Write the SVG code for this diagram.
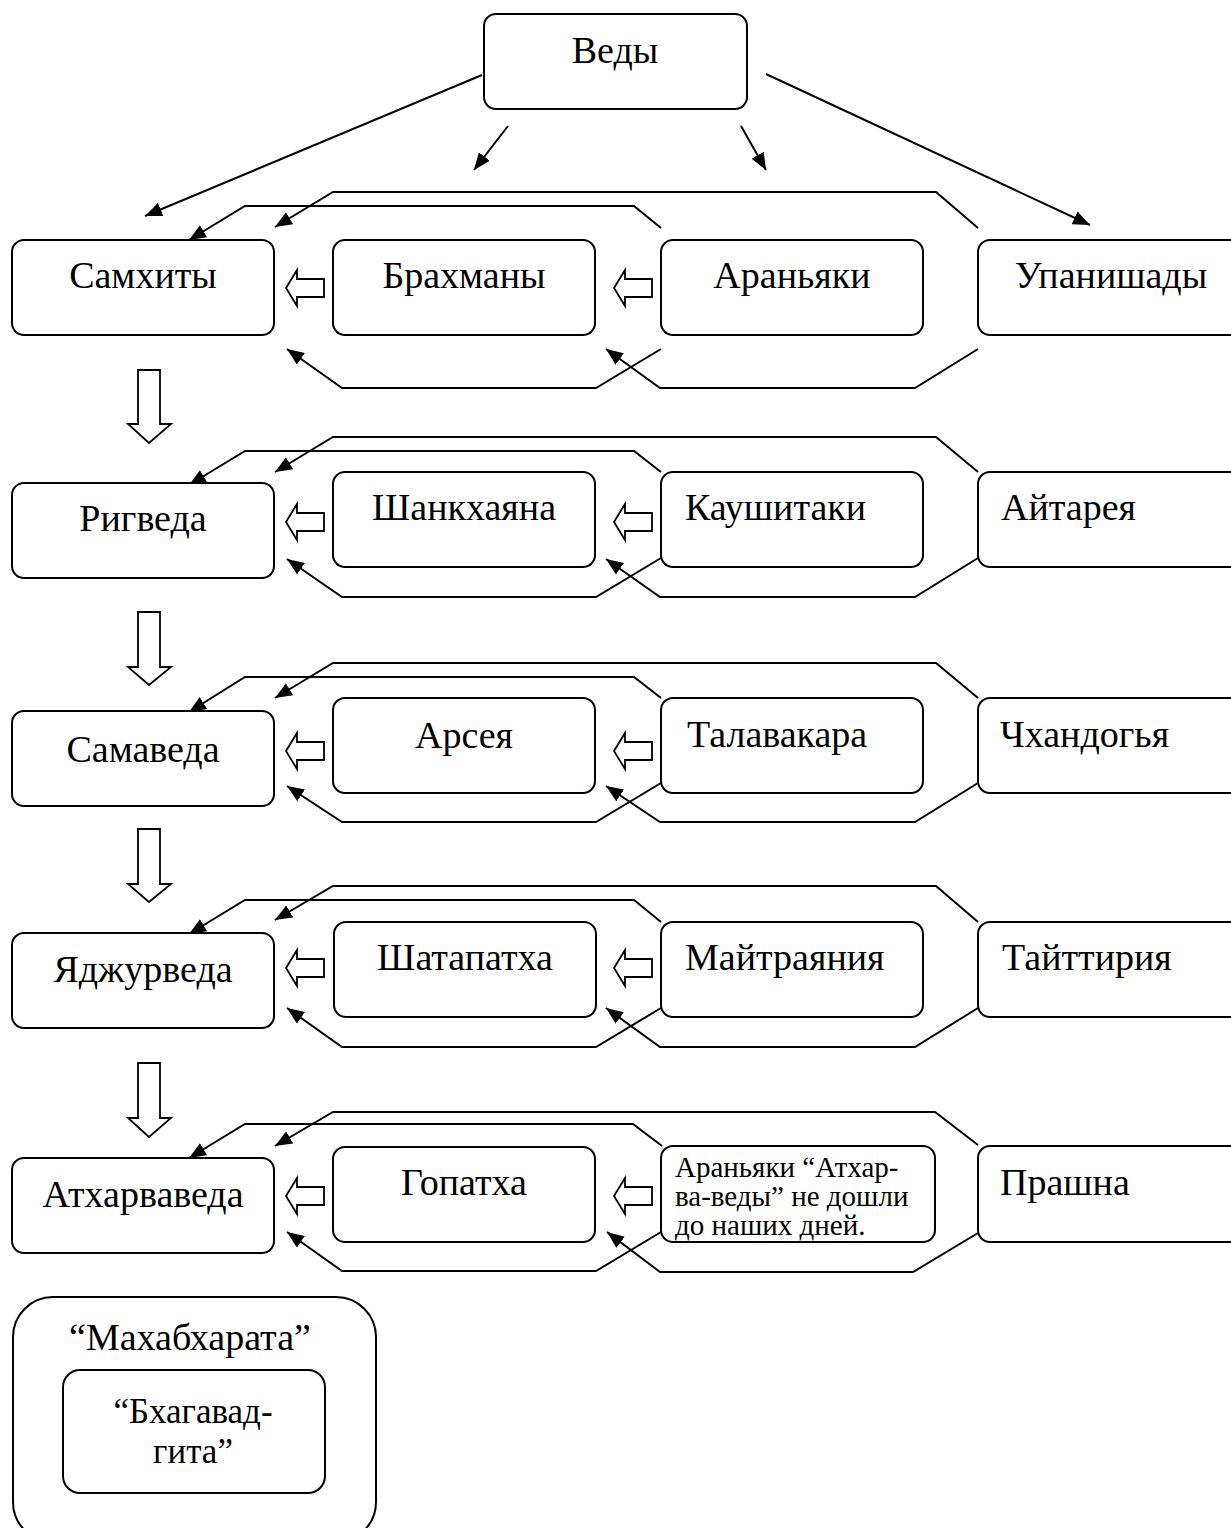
<svg xmlns="http://www.w3.org/2000/svg" width="1231" height="1528" viewBox="0 0 1231 1528">
<style>
.box{fill:#fff;stroke:#000;stroke-width:2}
.t{font-family:"Liberation Serif","Times New Roman",serif;font-size:38px;fill:#000}
.c{text-anchor:middle}
.g{font-size:35px}
.n{font-family:"Liberation Serif","Times New Roman",serif;font-size:29px;fill:#000}
.ln{fill:none;stroke:#000;stroke-width:2}
.ha{fill:#fff;stroke:#000;stroke-width:1.8;stroke-linejoin:miter}
</style>
<defs>
<marker id="ah" markerUnits="userSpaceOnUse" markerWidth="18" markerHeight="14" refX="17" refY="7" orient="auto" viewBox="0 0 18 14">
<path d="M0,0 L17,7 L0,14 z" fill="#000"/>
</marker>
</defs>
<rect width="1231" height="1528" fill="#fff"/>

<g id="connectors">
<line class="ln" x1="482" y1="75" x2="145" y2="216" marker-end="url(#ah)"/>
<line class="ln" x1="508" y1="126" x2="474" y2="170" marker-end="url(#ah)"/>
<line class="ln" x1="741" y1="126" x2="766" y2="170" marker-end="url(#ah)"/>
<line class="ln" x1="766" y1="74" x2="1090" y2="225" marker-end="url(#ah)"/>
<polyline class="ln" points="661,228 634,206 245,206 189,240" marker-end="url(#ah)"/>
<polyline class="ln" points="978,228 936,192 333,192 275,227" marker-end="url(#ah)"/>
<polyline class="ln" points="661,349 596,388 342,388 287,349" marker-end="url(#ah)"/>
<polyline class="ln" points="978,349 915,388 660,388 606,349" marker-end="url(#ah)"/>
<polyline class="ln" points="661,472 634,451 245,451 189,485" marker-end="url(#ah)"/>
<polyline class="ln" points="978,472 936,437 333,437 275,472" marker-end="url(#ah)"/>
<polyline class="ln" points="661,558 596,597 342,597 287,559" marker-end="url(#ah)"/>
<polyline class="ln" points="978,558 915,597 660,597 606,559" marker-end="url(#ah)"/>
<polyline class="ln" points="661,698 634,677 245,677 189,712" marker-end="url(#ah)"/>
<polyline class="ln" points="978,698 936,663 333,663 275,698" marker-end="url(#ah)"/>
<polyline class="ln" points="661,783 596,822 342,822 287,786" marker-end="url(#ah)"/>
<polyline class="ln" points="978,783 915,822 660,822 606,786" marker-end="url(#ah)"/>
<polyline class="ln" points="661,922 634,900 245,900 189,934" marker-end="url(#ah)"/>
<polyline class="ln" points="978,922 936,886 333,886 275,920" marker-end="url(#ah)"/>
<polyline class="ln" points="661,1008 596,1047 342,1047 287,1008" marker-end="url(#ah)"/>
<polyline class="ln" points="978,1008 915,1047 660,1047 606,1008" marker-end="url(#ah)"/>
<polyline class="ln" points="662,1146 633,1124 245,1124 189,1158" marker-end="url(#ah)"/>
<polyline class="ln" points="978,1145 935,1112 333,1112 275,1146" marker-end="url(#ah)"/>
<polyline class="ln" points="661,1232 596,1271 342,1271 287,1232" marker-end="url(#ah)"/>
<polyline class="ln" points="978,1233 913,1272 660,1272 607,1232" marker-end="url(#ah)"/>
<polygon class="ha" points="286,288 297,270 297,279 324,279 324,297 297,297 297,306"/>
<polygon class="ha" points="614,288 625,270 625,279 652,279 652,297 625,297 625,306"/>
<polygon class="ha" points="286,522 297,504 297,513 324,513 324,531 297,531 297,540"/>
<polygon class="ha" points="614,522 625,504 625,513 652,513 652,531 625,531 625,540"/>
<polygon class="ha" points="286,751 297,733 297,742 324,742 324,760 297,760 297,769"/>
<polygon class="ha" points="614,751 625,733 625,742 652,742 652,760 625,760 625,769"/>
<polygon class="ha" points="286,968 297,950 297,959 324,959 324,977 297,977 297,986"/>
<polygon class="ha" points="614,968 625,950 625,959 652,959 652,977 625,977 625,986"/>
<polygon class="ha" points="286,1196 297,1178 297,1187 324,1187 324,1205 297,1205 297,1214"/>
<polygon class="ha" points="614,1196 625,1178 625,1187 652,1187 652,1205 625,1205 625,1214"/>
<polygon class="ha" points="138,370 160,370 160,424 171,424 149,443 128,424 138,424"/>
<polygon class="ha" points="138,612 160,612 160,667 171,667 149,685 128,667 138,667"/>
<polygon class="ha" points="138,829 160,829 160,884 171,884 149,902 128,884 138,884"/>
<polygon class="ha" points="138,1063 160,1063 160,1118 171,1118 149,1137 128,1118 138,1118"/>
</g>

<g id="vedy"><rect class="box" x="484" y="14" width="263" height="95" rx="12"/><text class="t c" x="615" y="63">Веды</text></g>

<g id="samhity"><rect class="box" x="12" y="240" width="262" height="95" rx="12"/><text class="t c" x="143" y="288">Самхиты</text></g>
<g id="brahmany"><rect class="box" x="333" y="240" width="262" height="95" rx="12"/><text class="t c" x="464" y="288">Брахманы</text></g>
<g id="aranyaki"><rect class="box" x="661" y="240" width="262" height="95" rx="12"/><text class="t c" x="792" y="288">Араньяки</text></g>
<g id="upanishady"><rect class="box" x="978" y="240" width="268" height="95" rx="12"/><text class="t c" x="1111" y="288">Упанишады</text></g>

<g id="rigveda"><rect class="box" x="12" y="483" width="262" height="95" rx="12"/><text class="t c" x="143" y="531">Ригведа</text></g>
<g id="shankhayana"><rect class="box" x="333" y="472" width="262" height="95" rx="12"/><text class="t c" x="464" y="520">Шанкхаяна</text></g>
<g id="kaushitaki"><rect class="box" x="661" y="472" width="262" height="95" rx="12"/><text class="t" x="685" y="520">Каушитаки</text></g>
<g id="aitareya"><rect class="box" x="978" y="472" width="268" height="95" rx="12"/><text class="t" x="1001" y="520">Айтарея</text></g>

<g id="samaveda"><rect class="box" x="12" y="711" width="262" height="95" rx="12"/><text class="t c" x="143" y="762">Самаведа</text></g>
<g id="arseya"><rect class="box" x="333" y="698" width="262" height="95" rx="12"/><text class="t c" x="464" y="748">Арсея</text></g>
<g id="talavakara"><rect class="box" x="661" y="698" width="262" height="95" rx="12"/><text class="t" x="687" y="747">Талавакара</text></g>
<g id="chhandogya"><rect class="box" x="978" y="698" width="268" height="95" rx="12"/><text class="t" x="1000" y="747">Чхандогья</text></g>

<g id="yajurveda"><rect class="box" x="12" y="933" width="262" height="95" rx="12"/><text class="t c" x="143" y="982">Яджурведа</text></g>
<g id="shatapatha"><rect class="box" x="334" y="922" width="262" height="95" rx="12"/><text class="t c" x="465" y="970">Шатапатха</text></g>
<g id="maitrayaniya"><rect class="box" x="661" y="922" width="262" height="95" rx="12"/><text class="t" x="685" y="970">Майтраяния</text></g>
<g id="taittiriya"><rect class="box" x="978" y="922" width="268" height="95" rx="12"/><text class="t" x="1002" y="970">Тайттирия</text></g>

<g id="atharvaveda"><rect class="box" x="12" y="1158" width="262" height="95" rx="12"/><text class="t c" x="143" y="1207">Атхарваведа</text></g>
<g id="gopatha"><rect class="box" x="333" y="1147" width="262" height="95" rx="12"/><text class="t c" x="464" y="1195">Гопатха</text></g>
<g id="aranyaki-note"><rect class="box" x="661" y="1146" width="274" height="96" rx="12"/>
<text class="n" x="675" y="1177">Араньяки “Атхар-</text>
<text class="n" x="675" y="1206">ва-веды” не дошли</text>
<text class="n" x="675" y="1235">до наших дней.</text></g>
<g id="prashna"><rect class="box" x="978" y="1146" width="268" height="96" rx="12"/><text class="t" x="1000" y="1195">Прашна</text></g>

<g id="mahabharata"><rect class="box" x="13" y="1297" width="363" height="245" rx="40"/><text class="t c" x="190" y="1350">“Махабхарата”</text>
<g id="bhagavadgita"><rect class="box" x="63" y="1370" width="262" height="123" rx="17"/><text class="t c g" x="193" y="1423">“Бхагавад-</text><text class="t c g" x="193" y="1463">гита”</text></g></g>
</svg>
